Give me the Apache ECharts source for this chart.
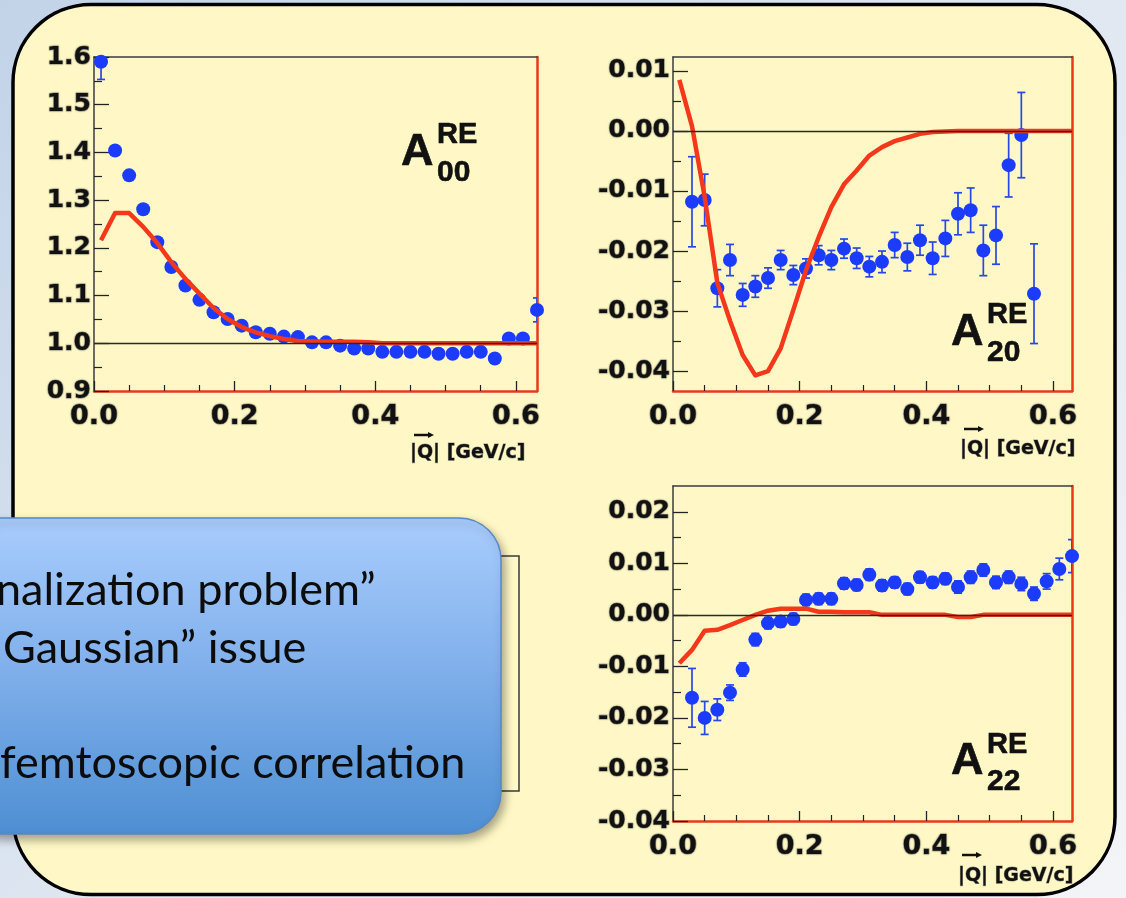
<!DOCTYPE html>
<html>
<head>
<meta charset="utf-8">
<title>Spherical harmonic moments A_lm^RE vs |Q|</title>
<style>
  html, body { margin: 0; padding: 0; width: 1126px; height: 898px; overflow: hidden;
    background: linear-gradient(135deg, #c2d3e8 0%, #dce5f0 45%, #f3f4f7 100%); }
  #chart { width: 1126px; height: 898px; }
</style>
<script src="https://cdn.jsdelivr.net/npm/echarts@6/dist/echarts.min.js"></script>
</head>
<body>
<div id="chart"></div>
<script>
// |Q| bin centres [GeV/c]
const qBins = [0.01, 0.03, 0.05, 0.07, 0.09, 0.11, 0.13, 0.15, 0.17, 0.19, 0.21, 0.23, 0.25, 0.27, 0.29, 0.31,
               0.33, 0.35, 0.37, 0.39, 0.41, 0.43, 0.45, 0.47, 0.49, 0.51, 0.53, 0.55, 0.57, 0.59, 0.61, 0.63];

// A00 (RE): measured moments, errors, fit
const a00 = [1.590, 1.404, 1.352, 1.281, 1.212, 1.160, 1.121, 1.091, 1.065, 1.051, 1.037, 1.023, 1.020, 1.014, 1.013, 1.002,
             1.002, 0.995, 0.989, 0.989, 0.982, 0.982, 0.982, 0.982, 0.978, 0.978, 0.982, 0.982, 0.968, 1.010, 1.010, 1.070];
const err00 = [0.037, 0.004, 0.004, 0.004, 0.003, 0.003, 0.003, 0.003, 0.003, 0.003, 0.003, 0.003, 0.003, 0.003, 0.003, 0.003,
               0.003, 0.003, 0.003, 0.003, 0.003, 0.003, 0.003, 0.003, 0.003, 0.003, 0.003, 0.003, 0.004, 0.005, 0.006, 0.025];
const fit00 = [1.216, 1.273, 1.273, 1.244, 1.210, 1.170, 1.135, 1.104, 1.074, 1.051, 1.034, 1.023, 1.015, 1.009, 1.005, 1.004,
               1.003, 1.003, 1.003, 1.002, 1.000, 1.000, 1.000, 1.000, 1.000, 1.000, 1.000, 1.000, 1.000, 1.000, 1.000, 1.000];

// A20 (RE): bins 0.03 .. 0.57
const q20 = qBins.slice(1, 29);
const a20 = [-0.0118, -0.0115, -0.0262, -0.0215, -0.0273, -0.0259, -0.0245, -0.0215, -0.0240, -0.0229, -0.0207, -0.0215,
             -0.0196, -0.0212, -0.0226, -0.0218, -0.0190, -0.0210, -0.0182, -0.0212, -0.0179, -0.0138, -0.0132, -0.0199,
             -0.0174, -0.0057, -0.0007, -0.0271];
const err20 = [0.0075, 0.0043, 0.0031, 0.0026, 0.0019, 0.0018, 0.0017, 0.0016, 0.0016, 0.0016, 0.0016, 0.0016,
               0.0016, 0.0017, 0.0017, 0.0018, 0.0021, 0.0023, 0.0025, 0.0027, 0.0030, 0.0035, 0.0037, 0.0042,
               0.0048, 0.0053, 0.0071, 0.0083];
const fit20 = [0.0085, 0.0008, -0.0110, -0.0253, -0.0316, -0.0373, -0.0407, -0.0400, -0.0362, -0.0298, -0.0232, -0.0177,
               -0.0127, -0.0089, -0.0066, -0.0041, -0.0027, -0.0017, -0.0011, -0.0005, -0.0002, -0.0001, 0, 0,
               0, 0, 0, 0, 0, 0, 0, 0];

// A22 (RE): bins 0.03 .. 0.63
const q22 = qBins.slice(1);
const a22 = [-0.0161, -0.0200, -0.0184, -0.0151, -0.0106, -0.0048, -0.0016, -0.0013, -0.0008, 0.0029, 0.0031, 0.0031,
             0.0061, 0.0058, 0.0078, 0.0057, 0.0063, 0.0050, 0.0073, 0.0063, 0.0070, 0.0054, 0.0073, 0.0087,
             0.0063, 0.0073, 0.0060, 0.0041, 0.0065, 0.0089, 0.0114];
const err22 = [0.0057, 0.0032, 0.0021, 0.0015, 0.0013, 0.0012, 0.0011, 0.0011, 0.0011, 0.0011, 0.0011, 0.0011,
               0.0011, 0.0011, 0.0011, 0.0011, 0.0011, 0.0011, 0.0011, 0.0011, 0.0011, 0.0012, 0.0012, 0.0012,
               0.0012, 0.0012, 0.0013, 0.0013, 0.0015, 0.0021, 0.0032];
const fit22 = [-0.0094, -0.0068, -0.0031, -0.0029, -0.0020, -0.0010, 0.0000, 0.0008, 0.0012, 0.0012, 0.0012, 0.0006,
               0.0006, 0.0005, 0.0005, 0.0005, 0, 0, 0, 0, 0, 0, -0.0004, -0.0004,
               0, 0, 0, 0, 0, 0, 0, 0];

// tick positions
const xMajor = [0, 0.2, 0.4, 0.6];
const xMinor = [0.05, 0.1, 0.15, 0.25, 0.3, 0.35, 0.45, 0.5, 0.55];
const y00Major = [0.9, 1.0, 1.1, 1.2, 1.3, 1.4, 1.5, 1.6];
const y00Minor = [0.95, 1.05, 1.15, 1.25, 1.35, 1.45, 1.55];
const y20Major = [-0.04, -0.03, -0.02, -0.01, 0, 0.01];
const y20Minor = [-0.035, -0.025, -0.015, -0.005, 0.005];
const y22Major = [-0.04, -0.03, -0.02, -0.01, 0, 0.01, 0.02];
const y22Minor = [-0.035, -0.025, -0.015, -0.005, 0.005, 0.015];

const pairs = (xs, ys) => xs.map((x, i) => [x, ys[i]]);
const triples = (xs, ys, es) => xs.map((x, i) => [x, ys[i], es[i]]);

const FRAME_DARK = '#3b3b3b';
const FRAME_RED = '#e8391b';
const POINT_BLUE = '#1b3cff';
const BAR_BLUE = '#2847e6';
const FIT_RED = '#f5371a';
const LABEL_FONT = 'DejaVu Sans';
// soft grey halo around axis numbers
const labelHalo = { textBorderColor: 'rgba(110,110,110,0.55)', textBorderWidth: 1.2,
                    textShadowColor: 'rgba(0,0,0,0.3)', textShadowBlur: 2 };

const panels = [
  { grid: { left: 94, top: 57, width: 443, height: 334 }, yMin: 0.9, yMax: 1.6,
    yMajor: y00Major, yMinor: y00Minor, dec: 1, yFont: 25,
    pts: triples(qBins, a00, err00), fit: pairs(qBins, fit00), ref: 1.0 },
  { grid: { left: 673, top: 57, width: 399, height: 334 }, yMin: -0.0433, yMax: 0.0123,
    yMajor: y20Major, yMinor: y20Minor, dec: 2, yFont: 25,
    pts: triples(q20, a20, err20), fit: pairs(qBins, fit20), ref: 0 },
  { grid: { left: 673, top: 486, width: 399, height: 335 }, yMin: -0.04, yMax: 0.025,
    yMajor: y22Major, yMinor: y22Minor, dec: 2, yFont: 25,
    pts: triples(q22, a22, err22), fit: pairs(qBins, fit22), ref: 0 }
];

const grids = [], xAxes = [], yAxes = [], series = [];

panels.forEach((p, i) => {
  grids.push(Object.assign({ show: false, outerBoundsMode: 'none', containLabel: false }, p.grid));
  const xBase = { type: 'value', gridIndex: i, min: 0, max: 0.63, splitLine: { show: false } };
  const yBase = { type: 'value', gridIndex: i, min: p.yMin, max: p.yMax, splitLine: { show: false } };

  // bottom axis: red line, major ticks + labels
  xAxes.push(Object.assign({}, xBase, {
    position: 'bottom',
    axisLine: { show: true, onZero: false, lineStyle: { color: FRAME_RED, width: 2.5 } },
    axisTick: { show: true, inside: true, length: 10, customValues: xMajor, lineStyle: { color: '#222', width: 1.3 } },
    axisLabel: { show: true, customValues: xMajor, margin: 12, formatter: v => v.toFixed(1),
      fontFamily: LABEL_FONT, fontWeight: 'bold', fontSize: 27, color: '#111', ...labelHalo }
  }));
  // bottom minor ticks
  xAxes.push(Object.assign({}, xBase, {
    position: 'bottom',
    axisLine: { show: false, onZero: false },
    axisTick: { show: true, inside: true, length: 6, customValues: xMinor, lineStyle: { color: '#222', width: 1.2 } },
    axisLabel: { show: false }
  }));
  // top frame edge
  xAxes.push(Object.assign({}, xBase, {
    position: 'top',
    axisLine: { show: true, onZero: false, lineStyle: { color: FRAME_DARK, width: 1.5 } },
    axisTick: { show: false }, axisLabel: { show: false }
  }));

  // left axis: dark line, major ticks + labels
  yAxes.push(Object.assign({}, yBase, {
    position: 'left',
    axisLine: { show: true, onZero: false, lineStyle: { color: FRAME_DARK, width: 1.5 } },
    axisTick: { show: true, inside: true, length: 15, customValues: p.yMajor, lineStyle: { color: '#222', width: 1.3 } },
    axisLabel: { show: true, customValues: p.yMajor, margin: 3, formatter: v => v.toFixed(p.dec),
      fontFamily: LABEL_FONT, fontWeight: 'bold', fontSize: p.yFont, color: '#111', ...labelHalo }
  }));
  // left minor ticks
  yAxes.push(Object.assign({}, yBase, {
    position: 'left',
    axisLine: { show: false, onZero: false },
    axisTick: { show: true, inside: true, length: 8, customValues: p.yMinor, lineStyle: { color: '#222', width: 1.2 } },
    axisLabel: { show: false }
  }));
  // right frame edge
  yAxes.push(Object.assign({}, yBase, {
    position: 'right',
    axisLine: { show: true, onZero: false, lineStyle: { color: FRAME_RED, width: 2.5 } },
    axisTick: { show: false }, axisLabel: { show: false }
  }));

  const xi = i * 3, yi = i * 3;

  // reference line (1 for A00, 0 for the others)
  series.push({
    type: 'line', xAxisIndex: xi, yAxisIndex: yi, data: [], z: 1, silent: true,
    markLine: { silent: true, symbol: ['none', 'none'], animation: false,
      label: { show: false }, lineStyle: { color: '#2a2a2a', width: 1.3, type: 'solid' },
      data: [{ yAxis: p.ref }] }
  });

  // statistical error bars
  series.push({
    type: 'custom', xAxisIndex: xi, yAxisIndex: yi, z: 2, clip: true, silent: true,
    data: p.pts, encode: { x: 0, y: 1 },
    renderItem: (params, api) => {
      const x = api.value(0), y = api.value(1), e = api.value(2);
      if (!e) return null;
      const hi = api.coord([x, y + e]);
      const lo = api.coord([x, y - e]);
      const c = 4;
      const st = { stroke: BAR_BLUE, lineWidth: 1.7 };
      return { type: 'group', children: [
        { type: 'line', shape: { x1: hi[0], y1: hi[1], x2: lo[0], y2: lo[1] }, style: st },
        { type: 'line', shape: { x1: hi[0] - c, y1: hi[1], x2: hi[0] + c, y2: hi[1] }, style: st },
        { type: 'line', shape: { x1: lo[0] - c, y1: lo[1], x2: lo[0] + c, y2: lo[1] }, style: st }
      ] };
    }
  });

  // measured points
  series.push({
    type: 'scatter', xAxisIndex: xi, yAxisIndex: yi, z: 3, silent: true,
    symbol: 'circle', symbolSize: 14, itemStyle: { color: POINT_BLUE, opacity: 1 },
    data: p.pts.map(d => [d[0], d[1]])
  });

  // model fit
  series.push({
    type: 'line', xAxisIndex: xi, yAxisIndex: yi, z: 4, silent: true,
    showSymbol: false, symbol: 'none', data: p.fit,
    lineStyle: { color: FIT_RED, width: 4.5, join: 'round', opacity: 1 }
  });
});

// panel labels A^RE_lm and axis titles
function momentLabel(x, yA, yUp, yLow, sub) {
  const common = { fontFamily: 'Liberation Sans', fontWeight: 'bold', fill: '#111', align: 'left', verticalAlign: 'middle',
                   stroke: '#111', lineWidth: 0.6 };
  return [
    { type: 'text', x: x, y: yA, style: Object.assign({ text: 'A', fontSize: 45 }, common) },
    { type: 'text', x: x + 36, y: yUp, style: Object.assign({ text: 'RE', fontSize: 29 }, common) },
    { type: 'text', x: x + 36, y: yLow, style: Object.assign({ text: sub, fontSize: 30 }, common) }
  ];
}
function qTitle(x, y, arrowY) {
  return [
    { type: 'text', x: x, y: y, style: { text: '|Q| [GeV/c]', fontFamily: LABEL_FONT, fontWeight: 'bold', fontSize: 19,
      fill: '#111', align: 'left', verticalAlign: 'middle', stroke: 'rgba(90,90,90,0.6)', lineWidth: 1 } },
    { type: 'line', shape: { x1: x + 4, y1: arrowY, x2: x + 20, y2: arrowY }, style: { stroke: '#111', lineWidth: 2.5 } },
    { type: 'polygon', shape: { points: [[x + 18, arrowY - 3], [x + 24, arrowY], [x + 18, arrowY + 3]] }, style: { fill: '#111' } }
  ];
}

const calloutFill = new echarts.graphic.LinearGradient(0, 0, 0, 1, [
  { offset: 0, color: '#a9cdfd' },
  { offset: 0.5, color: '#7eaeea' },
  { offset: 1, color: '#4d8fd3' }
]);
const bodyText = (txt, x, y) => ({
  type: 'text', x: x, y: y, z: 120,
  style: { text: txt, fontFamily: 'Lato', fontSize: 45, fill: '#0c0c0c', align: 'left', verticalAlign: 'middle' }
});

const graphic = [
  // slide panel
  { type: 'rect', z: -10, shape: { x: 13, y: 4.5, width: 1102, height: 890, r: 78 },
    style: { fill: '#fff8c6', stroke: '#000', lineWidth: 3.5 } },
  // frame of the plot partly covered by the callout
  { type: 'rect', z: 50, shape: { x: 300, y: 556, width: 219, height: 235 },
    style: { fill: '#fff8c9', stroke: '#3a3a3a', lineWidth: 1.5 } },
  // callout box
  { type: 'rect', z: 100, shape: { x: -40, y: 518, width: 541, height: 316, r: 42 },
    style: { fill: calloutFill, stroke: '#5a88c2', lineWidth: 1.5,
      shadowBlur: 10, shadowOffsetX: 3, shadowOffsetY: 5, shadowColor: 'rgba(0,0,0,0.35)' } },
  bodyText('nalization problem\u201D', -4, 590),
  bodyText('Gaussian\u201D issue', 3, 648),
  bodyText('femtoscopic correlation', 0, 763),
  ...momentLabel(401, 153, 135, 173, '00'),
  ...momentLabel(951, 333, 315, 353, '20'),
  ...momentLabel(951, 762, 745, 782, '22'),
  ...qTitle(410, 453, 435),
  ...qTitle(960, 449, 429),
  ...qTitle(958, 876, 855)
];

const chart = echarts.init(document.getElementById('chart'), null, { renderer: 'canvas' });
chart.setOption({
  backgroundColor: 'transparent',
  animation: false,
  grid: grids,
  xAxis: xAxes,
  yAxis: yAxes,
  series: series,
  graphic: graphic
});
</script>
</body>
</html>
